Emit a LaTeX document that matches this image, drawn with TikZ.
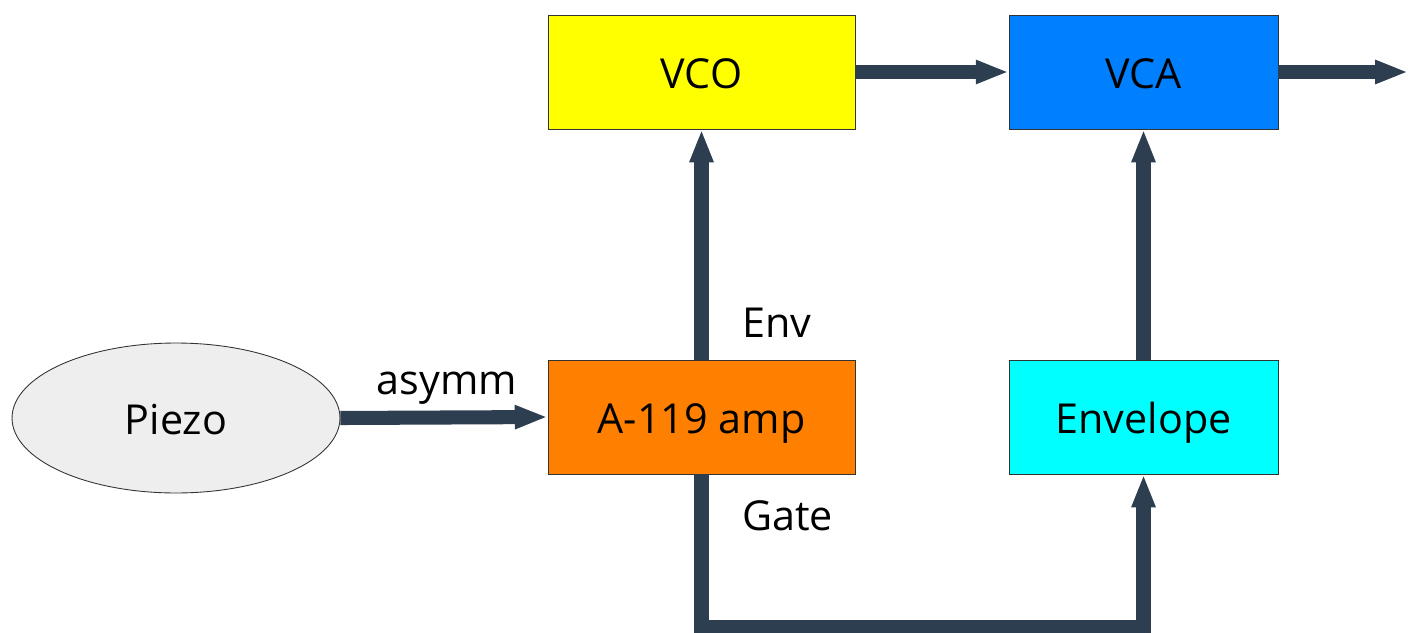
\documentclass[tikz,border=0pt]{standalone}
\usepackage{fontspec}
\setmainfont{Open Sans}
\usetikzlibrary{arrows.meta,shapes.geometric}
\definecolor{wire}{HTML}{2C3E50}
\definecolor{vcoyellow}{HTML}{FFFF00}
\definecolor{vcablue}{HTML}{0080FF}
\definecolor{amporange}{HTML}{FF8000}
\definecolor{envcyan}{HTML}{00FFFF}
\definecolor{piezogray}{HTML}{EEEEEE}
\begin{document}
\begin{tikzpicture}[x=.02cm,y=-.02cm,
 every node/.style={font=\fontsize{23.5}{28}\selectfont},
 block/.style={draw=black!80,line width=.5pt,minimum height=2.28cm,inner sep=0pt,
  text height=19pt,text depth=0pt},
 link/.style={draw=wire,line width=8pt,line join=miter,
  -{Triangle[length=18.7pt,width=12.5pt]}},
 tag/.style={inner sep=0pt}]
\useasboundingbox (0,0) rectangle (1408,632);
\node[ellipse,draw=black!80,fill=piezogray,line width=.5pt,minimum width=6.56cm,
 minimum height=3cm,text height=19pt,text depth=0pt] (piezo) at (176,418) {Piezo};
\node[block,fill=amporange,minimum width=6.14cm] (amp) at (701.5,417) {A-119 amp};
\node[block,fill=vcoyellow,minimum width=6.14cm] (vco) at (701.5,72) {VCO};
\node[block,fill=vcablue,minimum width=5.38cm] (vca) at (1143.5,72) {VCA};
\node[block,fill=envcyan,minimum width=5.38cm] (env) at (1143.5,417) {Envelope};
\coordinate (out) at (1408,72);
\coordinate (gate) at (922,627);
\draw[link] (piezo.east) -- (amp.west);
\draw[link] (amp) -- (vco);
\draw[link] (vco) -- (vca);
\draw[link] (vca) -- (out);
\draw[link] (env) -- (vca);
\draw[link] (amp.south) |- (gate) -| (env.south);
\node[tag,anchor=base] (asymm) at (447,394) {asymm};
\node[tag,anchor=base west] (envlbl) at (742,337) {Env};
\node[tag,anchor=base west] (gatelbl) at (742,530) {Gate};
\end{tikzpicture}
\end{document}
